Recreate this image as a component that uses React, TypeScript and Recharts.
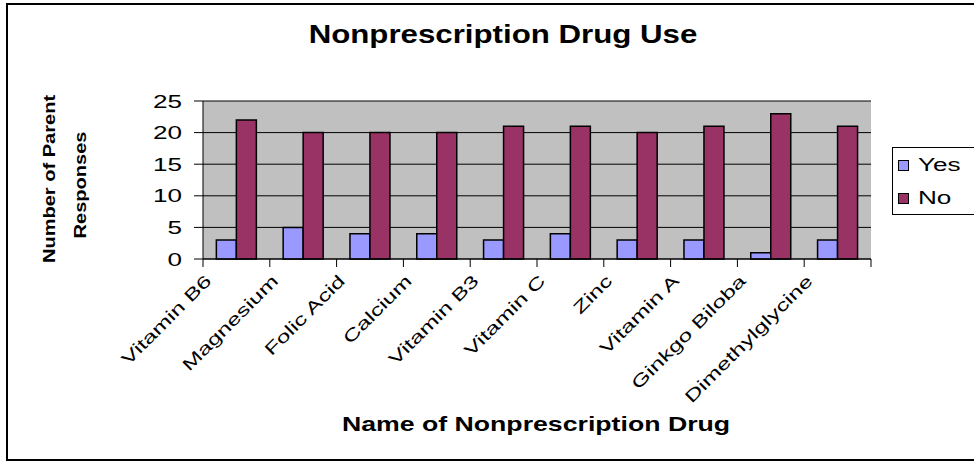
import React from 'react';
import { BarChart, Bar, XAxis, YAxis, CartesianGrid, Legend } from 'recharts';

const drugs = [
  'Vitamin B6',
  'Magnesium',
  'Folic Acid',
  'Calcium',
  'Vitamin B3',
  'Vitamin C',
  'Zinc',
  'Vitamin A',
  'Ginkgo Biloba',
  'Dimethylglycine',
];
const yesCounts = [3, 5, 4, 4, 3, 4, 3, 3, 1, 3];
const noCounts = [22, 20, 20, 20, 21, 21, 20, 21, 23, 21];
const yTicks = [0, 5, 10, 15, 20, 25];
const seriesNames = ['Yes', 'No'];

const chartData = drugs.map((name, i) => ({ name, Yes: yesCounts[i], No: noCounts[i] }));

const FONT = '"Liberation Sans", Arial, sans-serif';

// category labels sit under the band, boundary tick marks sit between bands (Excel style)
const DrugTick = (props: any) => {
  const { x, y, payload, index, visibleTicksCount } = props;
  const half = payload.offset ?? 33.4;
  const last = index === visibleTicksCount - 1;
  return (
    <g>
      <line x1={x - half} x2={x - half} y1={y} y2={y + 8} stroke="#000" />
      {last && <line x1={x + half} x2={x + half} y1={y} y2={y + 8} stroke="#000" />}
      <text
        transform={`translate(${x - 24},${y + 23}) rotate(-45) scale(1.45,1)`}
        textAnchor="end"
        fontSize={17}
        fontFamily={FONT}
        fill="#000"
      >
        {payload.value}
      </text>
    </g>
  );
};

const CountTick = (props: any) => {
  const { x, y, payload } = props;
  return (
    <text
      transform={`translate(${x},${y + 6.5}) scale(1.45,1)`}
      textAnchor="end"
      fontSize={18}
      fontFamily={FONT}
      fill="#000"
    >
      {payload.value}
    </text>
  );
};

const renderLegend = (props: any) => {
  const items = [...(props.payload || [])].sort(
    (a: any, b: any) => seriesNames.indexOf(a.value) - seriesNames.indexOf(b.value)
  );
  return (
    <div
      style={{
        position: 'relative',
        width: 100,
        height: 68,
        border: '1px solid #000',
        boxSizing: 'border-box',
        background: '#fff',
        fontFamily: FONT,
      }}
    >
      {items.map((entry: any, i: number) => (
        <div key={entry.value} style={{ position: 'absolute', left: 0, top: 6 + i * 33, height: 22, width: 100 }}>
          <div
            style={{
              position: 'absolute',
              left: 5,
              top: 6,
              width: 11,
              height: 11,
              boxSizing: 'border-box',
              border: '1.5px solid #000',
              background: entry.color,
            }}
          />
          <div
            style={{
              position: 'absolute',
              left: 25,
              top: 0,
              fontSize: 18,
              lineHeight: '22px',
              color: '#000',
              transform: 'scaleX(1.45)',
              transformOrigin: 'left center',
              whiteSpace: 'nowrap',
            }}
          >
            {entry.value}
          </div>
        </div>
      ))}
    </div>
  );
};

const App: React.FC = () => {
  return (
    <div
      style={{
        position: 'absolute',
        left: 0,
        top: 0,
        width: 974,
        height: 462,
        overflow: 'hidden',
        background: '#fff',
      }}
    >
      <div
        style={{
          position: 'absolute',
          left: 6,
          top: 3,
          width: 1000,
          height: 458,
          boxSizing: 'border-box',
          border: '2px solid #000',
        }}
      />
      <BarChart
        width={974}
        height={462}
        data={chartData}
        margin={{ top: 101, right: 103, bottom: 173, left: 163 }}
        barCategoryGap="20%"
        barGap={0}
      >
        <CartesianGrid vertical={false} stroke="#000" fill="#C0C0C0" />
        <XAxis
          dataKey="name"
          height={30}
          interval={0}
          tickSize={0}
          tickMargin={0}
          tickLine={false}
          axisLine={{ stroke: '#000' }}
          tick={<DrugTick />}
        />
        <XAxis
          xAxisId="top"
          dataKey="name"
          orientation="top"
          height={0}
          tick={false}
          tickLine={false}
          axisLine={{ stroke: '#808080' }}
        />
        <YAxis
          width={40}
          domain={[0, 25]}
          ticks={yTicks}
          interval={0}
          tickSize={9}
          tickMargin={12}
          tickLine={{ stroke: '#000' }}
          axisLine={{ stroke: '#000' }}
          tick={<CountTick />}
        />
        <YAxis
          yAxisId="right"
          orientation="right"
          width={0}
          domain={[0, 25]}
          tick={false}
          tickLine={false}
          axisLine={{ stroke: '#808080' }}
        />
        <Legend
          layout="vertical"
          align="center"
          verticalAlign="middle"
          content={renderLegend}
          wrapperStyle={{ left: 892, top: 147, width: 100, height: 68 }}
        />
        <Bar dataKey="Yes" name="Yes" fill="#9999FF" stroke="#000" strokeWidth={1.5} isAnimationActive={false} />
        <Bar dataKey="No" name="No" fill="#993366" stroke="#000" strokeWidth={1.5} isAnimationActive={false} />
      </BarChart>
      <svg
        width={974}
        height={462}
        style={{ position: 'absolute', left: 0, top: 0, pointerEvents: 'none' }}
        fontFamily={FONT}
      >
        <text transform="translate(503,43) scale(1.25,1)" textAnchor="middle" fontSize={25} fontWeight="bold" fill="#000">
          Nonprescription Drug Use
        </text>
        <text transform="translate(55,179) rotate(-90) scale(1.18,1)" textAnchor="middle" fontSize={17} fontWeight="bold" fill="#000">
          Number of Parent
        </text>
        <text transform="translate(86,185) rotate(-90) scale(1.18,1)" textAnchor="middle" fontSize={17} fontWeight="bold" fill="#000">
          Responses
        </text>
        <text transform="translate(536,431) scale(1.27,1)" textAnchor="middle" fontSize={21} fontWeight="bold" fill="#000">
          Name of Nonprescription Drug
        </text>
      </svg>
    </div>
  );
};

export default App;
